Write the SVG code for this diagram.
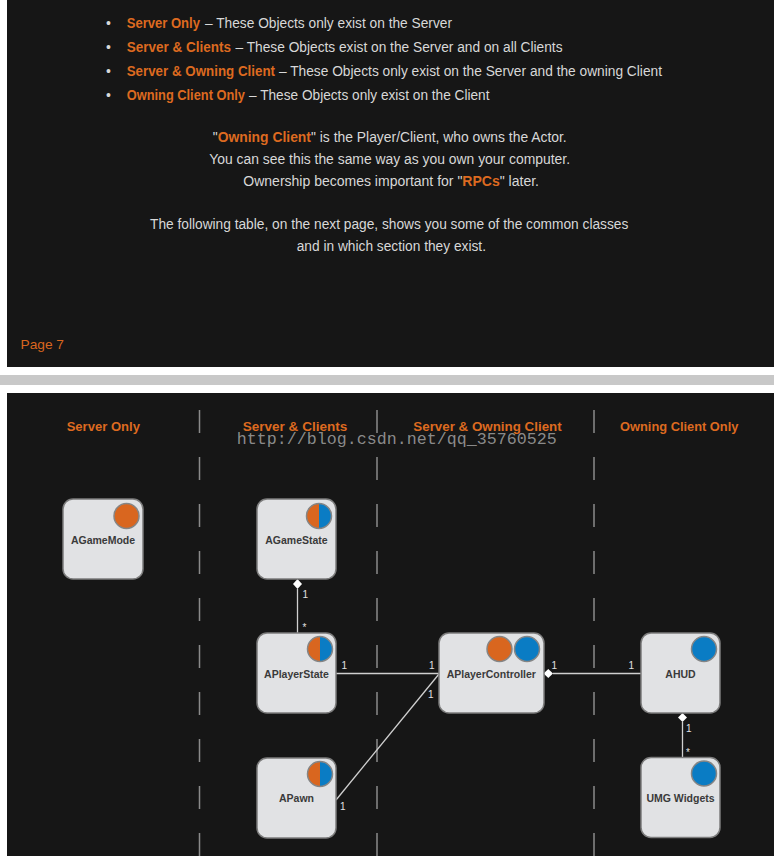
<svg xmlns="http://www.w3.org/2000/svg" width="774" height="856" viewBox="0 0 774 856">
<style>
.hd{font-family:"Liberation Sans",Arial,sans-serif;font-weight:bold;font-size:13.5px;fill:#dd6a20;text-anchor:middle}
.or{font-family:"Liberation Sans",Arial,sans-serif;font-weight:bold;font-size:14px;fill:#dd6a20}
.wt{font-family:"Liberation Sans",Arial,sans-serif;font-size:14px;fill:#d8d8d8}
.nb{fill:#e1e2e4;stroke:#7c7c7c;stroke-width:1.5}
.nl{font-family:"Liberation Sans",Arial,sans-serif;font-weight:bold;font-size:10.5px;fill:#3a3a3a;text-anchor:middle}
.ring{fill:none;stroke:#858585;stroke-width:1.5}
.o{fill:#d9661f}
.b{fill:#0a7cc4}
.ln{stroke:#d0d0d0;stroke-width:1.3;fill:none}
.dm{fill:#ffffff}
.ml{font-family:"Liberation Sans",Arial,sans-serif;font-size:10px;fill:#e2e2e2}
.dash{stroke:#8a8a8a;stroke-width:1.5;stroke-dasharray:23 24}
</style>
<rect x="0" y="0" width="774" height="856" fill="#ffffff"/>
<rect x="7" y="0" width="767" height="367" fill="#161616"/>
<rect x="0" y="375" width="774" height="10" fill="#c8c8c8"/>
<rect x="7" y="393" width="767" height="463" fill="#161616"/>

<g id="top-text">
<text class="wt" x="106" y="27.5">•</text>
<text class="or" x="126.7" y="27.5" textLength="73.3" lengthAdjust="spacingAndGlyphs">Server Only</text>
<text class="wt" x="205" y="27.5" textLength="247" lengthAdjust="spacingAndGlyphs">– These Objects only exist on the Server</text>
<text class="wt" x="106" y="51.5">•</text>
<text class="or" x="126.7" y="51.5" textLength="104.3" lengthAdjust="spacingAndGlyphs">Server &amp; Clients</text>
<text class="wt" x="235.5" y="51.5" textLength="327" lengthAdjust="spacingAndGlyphs">– These Objects exist on the Server and on all Clients</text>
<text class="wt" x="106" y="75.5">•</text>
<text class="or" x="126.7" y="75.5" textLength="148.3" lengthAdjust="spacingAndGlyphs">Server &amp; Owning Client</text>
<text class="wt" x="279" y="75.5" textLength="383" lengthAdjust="spacingAndGlyphs">– These Objects only exist on the Server and the owning Client</text>
<text class="wt" x="106" y="99.5">•</text>
<text class="or" x="126.7" y="99.5" textLength="118.3" lengthAdjust="spacingAndGlyphs">Owning Client Only</text>
<text class="wt" x="249" y="99.5" textLength="240.5" lengthAdjust="spacingAndGlyphs">– These Objects only exist on the Client</text>

<text class="wt" x="212.7" y="141.5" textLength="354" lengthAdjust="spacingAndGlyphs">"<tspan class="or">Owning Client</tspan>" is the Player/Client, who owns the Actor.</text>
<text class="wt" x="209.3" y="163.5" textLength="360.7" lengthAdjust="spacingAndGlyphs">You can see this the same way as you own your computer.</text>
<text class="wt" x="243.3" y="185.5" textLength="295.7" lengthAdjust="spacingAndGlyphs">Ownership becomes important for "<tspan class="or">RPCs</tspan>" later.</text>
<text class="wt" x="150" y="228.5" textLength="478.3" lengthAdjust="spacingAndGlyphs">The following table, on the next page, shows you some of the common classes</text>
<text class="wt" x="296.7" y="250.5" textLength="189.3" lengthAdjust="spacingAndGlyphs">and in which section they exist.</text>
<text x="20.5" y="348.5" font-family="'Liberation Sans',Arial,sans-serif" font-size="13.5" fill="#d9661f" textLength="43.5" lengthAdjust="spacingAndGlyphs">Page 7</text>
</g>

<g id="lanes">
<line class="dash" x1="199.5" y1="410" x2="199.5" y2="856"/>
<line class="dash" x1="377" y1="410" x2="377" y2="856"/>
<line class="dash" x1="594" y1="410" x2="594" y2="856"/>
<text class="hd" x="103.3" y="431" textLength="73.3" lengthAdjust="spacingAndGlyphs">Server Only</text>
<text class="hd" x="295" y="431" textLength="104.6" lengthAdjust="spacingAndGlyphs">Server &amp; Clients</text>
<text class="hd" x="487.5" y="431" textLength="148.4" lengthAdjust="spacingAndGlyphs">Server &amp; Owning Client</text>
<text class="hd" x="679.2" y="431" textLength="118.3" lengthAdjust="spacingAndGlyphs">Owning Client Only</text>
</g>

<g id="connectors">
<line class="ln" x1="297.5" y1="589" x2="297.5" y2="633"/>
<path class="dm" d="M297.5 579 L302 584 L297.5 589 L293 584 Z"/>
<text class="ml" x="302.5" y="598">1</text>
<text class="ml" x="302.5" y="631">*</text>
<line class="ln" x1="336" y1="673.5" x2="439" y2="673.5"/>
<text class="ml" x="341.5" y="669">1</text>
<text class="ml" x="429" y="669">1</text>
<line class="ln" x1="336" y1="800" x2="439" y2="674"/>
<text class="ml" x="428" y="698">1</text>
<text class="ml" x="340" y="810">1</text>
<line class="ln" x1="553" y1="673.5" x2="641" y2="673.5"/>
<path class="dm" d="M543.5 673.5 L548.3 669 L553 673.5 L548.3 678 Z"/>
<text class="ml" x="551.5" y="668.5">1</text>
<text class="ml" x="628.5" y="668.5">1</text>
<line class="ln" x1="682.5" y1="722" x2="682.5" y2="757.5"/>
<path class="dm" d="M682.5 713 L687 717.5 L682.5 722 L678 717.5 Z"/>
<text class="ml" x="686" y="731.5">1</text>
<text class="ml" x="686" y="755.5">*</text>
</g>

<g id="AGameMode">
<rect class="nb" x="63" y="499" width="80" height="80" rx="10"/>
<circle class="o" cx="126.5" cy="516" r="12.5"/>
<circle class="ring" cx="126.5" cy="516" r="12.5"/>
<text class="nl" x="103" y="543.5">AGameMode</text>
</g>

<g id="AGameState">
<rect class="nb" x="257" y="499" width="79" height="80" rx="10"/>
<path class="o" d="M319 503.5 A12.5 12.5 0 0 0 319 528.5 Z"/>
<path class="b" d="M319 503.5 A12.5 12.5 0 0 1 319 528.5 Z"/>
<circle class="ring" cx="319" cy="516" r="12.5"/>
<text class="nl" x="296.5" y="543.5">AGameState</text>
</g>

<g id="APlayerState">
<rect class="nb" x="257" y="633" width="79" height="80" rx="10"/>
<path class="o" d="M320 636.5 A12.5 12.5 0 0 0 320 661.5 Z"/>
<path class="b" d="M320 636.5 A12.5 12.5 0 0 1 320 661.5 Z"/>
<circle class="ring" cx="320" cy="649" r="12.5"/>
<text class="nl" x="296.5" y="677.5">APlayerState</text>
</g>

<g id="APlayerController">
<rect class="nb" x="439" y="633" width="105" height="80" rx="10"/>
<circle class="o" cx="499.5" cy="649" r="12.5"/>
<circle class="ring" cx="499.5" cy="649" r="12.5"/>
<circle class="b" cx="527" cy="649" r="12.5"/>
<circle class="ring" cx="527" cy="649" r="12.5"/>
<text class="nl" x="491.3" y="677.5">APlayerController</text>
</g>

<g id="AHUD">
<rect class="nb" x="641" y="633" width="79" height="80" rx="10"/>
<circle class="b" cx="704" cy="649" r="12.5"/>
<circle class="ring" cx="704" cy="649" r="12.5"/>
<text class="nl" x="680.5" y="677.5">AHUD</text>
</g>

<g id="APawn">
<rect class="nb" x="257" y="758" width="79" height="80" rx="10"/>
<path class="o" d="M320 761.5 A12.5 12.5 0 0 0 320 786.5 Z"/>
<path class="b" d="M320 761.5 A12.5 12.5 0 0 1 320 786.5 Z"/>
<circle class="ring" cx="320" cy="774" r="12.5"/>
<text class="nl" x="296.5" y="802">APawn</text>
</g>

<g id="UMGWidgets">
<rect class="nb" x="641" y="757.5" width="79" height="80" rx="10"/>
<circle class="b" cx="704" cy="773.5" r="12.5"/>
<circle class="ring" cx="704" cy="773.5" r="12.5"/>
<text class="nl" x="680.5" y="801.5">UMG Widgets</text>
</g>

<text x="236.7" y="444" font-family="'Liberation Mono','Courier New',monospace" font-size="16.5" fill="#9a9a9a" fill-opacity="0.9" textLength="320" lengthAdjust="spacingAndGlyphs">http://blog.csdn.net/qq_35760525</text>
</svg>
